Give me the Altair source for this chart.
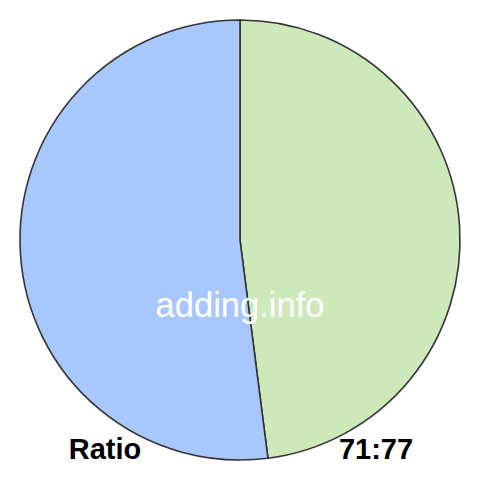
import altair as alt
import pandas as pd

labels = ["71", "77"]
values = [71, 77]
colors = ["#cde8b9", "#a8c7fd"]
order = [1, 2]

df = pd.DataFrame({"label": labels, "value": values, "order": order})

W = 464
cx, cy, r = 232, 232, 220

pie = alt.Chart(df).mark_arc(radius=r, stroke="#333333", strokeWidth=1.6).encode(
    theta=alt.Theta("value:Q", stack=True),
    order=alt.Order("order:Q"),
    color=alt.Color("label:N", scale=alt.Scale(domain=labels, range=colors), legend=None),
    x=alt.value(cx),
    y=alt.value(cy),
)

watermark = alt.Chart(pd.DataFrame({"t": ["adding.info"]})).mark_text(
    font="Liberation Sans", fontSize=34.5, color="white", align="center", baseline="alphabetic"
).encode(text="t:N", x=alt.value(232), y=alt.value(309))

ratio = alt.Chart(pd.DataFrame({"t": ["Ratio"]})).mark_text(
    font="Liberation Sans", fontSize=29, fontWeight="bold", color="black", align="center", baseline="alphabetic"
).encode(text="t:N", x=alt.value(97), y=alt.value(451))

nums = alt.Chart(pd.DataFrame({"t": [f"{values[0]}:{values[1]}"]})).mark_text(
    font="Liberation Sans", fontSize=29, fontWeight="bold", color="black", align="center", baseline="alphabetic"
).encode(text="t:N", x=alt.value(368), y=alt.value(451))

chart = alt.layer(pie, watermark, ratio, nums).properties(
    width=W, height=W, padding=0, autosize="none"
).configure_view(stroke=None)

chart.save("out.html", embed_options={"renderer": "svg", "actions": False})
